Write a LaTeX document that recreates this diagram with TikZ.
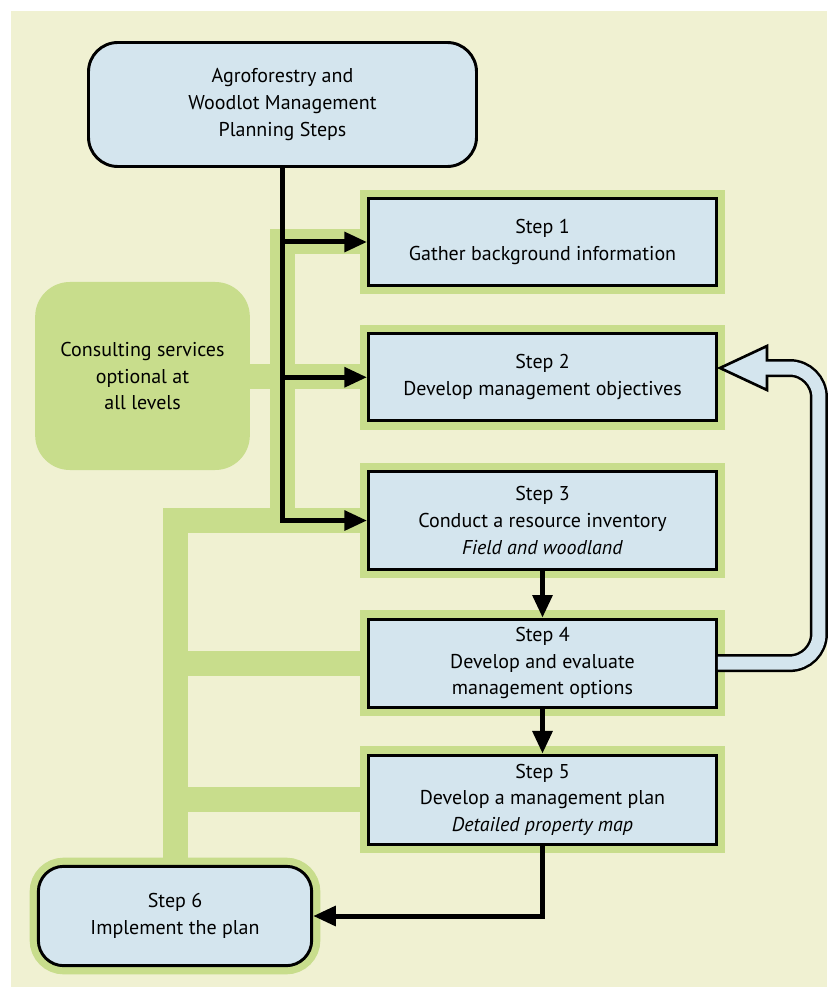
\documentclass[tikz,border=0pt]{standalone}
\usepackage{fontspec}
\setmainfont{PT Sans}
\usetikzlibrary{arrows.meta,positioning,calc}
\definecolor{cream}{RGB}{240,241,210}
\definecolor{leaf}{RGB}{200,221,140}
\definecolor{sky}{RGB}{212,229,238}
\pgfdeclarelayer{back}
\pgfsetlayers{back,main}

\begin{document}
\begin{tikzpicture}[
  x=0.75pt, y=-0.75pt,
  font=\fontsize{15}{20}\selectfont,
  halo/.style={preaction={draw=leaf, line width=13pt}},
  m/.style={draw, line width=2.2pt, fill=sky, align=center, inner sep=0pt, minimum width=261pt},
  s/.style={m, halo},
  r/.style={m, rounded corners=22pt},
  bus/.style={draw=leaf, line width=18.75pt},
  arr/.style={-{Triangle[length=17pt,width=14.5pt]}, line width=3.75pt}
]
\useasboundingbox (0,0) rectangle (827,987);
\node[r, minimum width=291pt, minimum height=93pt] (top) at (282.5,104.5)
  {Agroforestry and\\Woodlot Management\\Planning Steps};
\node[s, minimum height=65.5pt] (s1) at (542.5,242) {Step 1\\Gather background information};
\node[s, minimum height=65.5pt, below=33.75pt of s1] (s2) {Step 2\\Develop management objectives};
\node[s, minimum height=73pt, below=36pt of s2] (s3)
  {Step 3\\Conduct a resource inventory\\\textit{Field and woodland}};
\node[s, minimum height=66pt, below=35.25pt of s3] (s4) {Step 4\\Develop and evaluate\\management options};
\node[s, minimum height=67pt, below=33.75pt of s4] (s5)
  {Step 5\\Develop a management plan\\\textit{Detailed property map}};
\node[r, halo, minimum width=205pt, minimum height=74.5pt, rounded corners=19pt] (s6) at (175,916)
  {Step 6\\Implement the plan};
\node[fill=leaf, rounded corners=26pt, minimum width=161pt, minimum height=141pt, align=center] (cons)
  at (142.5,376) {Consulting services\\optional at\\all levels};
\coordinate (fb) at (767,368);
\begin{pgfonlayer}{back}
\fill[cream] (11,11) rectangle (827,987);
\draw[bus] (s1.west) -| (s3.west -| top.south);
\draw[bus] (s3.west) -| (s6.north);
\draw[bus] (cons.east) -- (cons.east -| s2.west);
\draw[bus] (s4.west) -- (s4.west -| s6.north);
\draw[bus] (s5.west) -- (s5.west -| s6.north);
\end{pgfonlayer}
\draw[arr] (top.south) |- (s3.west);
\draw[arr] (top.south |- s1.west) -- (s1.west);
\draw[arr] (top.south |- s2.west) -- (s2.west);
\draw[arr] (s3) -- (s4);
\draw[arr] (s4) -- (s5);
\draw[arr] (s5.south) |- (s6.east);
\draw[line width=13.5pt, rounded corners=22pt] (s4.east) -- ++(101,0) |- (fb);
\filldraw[fill=sky, line width=2pt] (fb) ++(0,-22) -- ++(-47,22) -- ++(47,22) -- cycle;
\draw[sky, line width=9.75pt, rounded corners=22pt] (s4.east) -- ++(101,0) |- ($(fb)+(-12,0)$);
\end{tikzpicture}
\end{document}
